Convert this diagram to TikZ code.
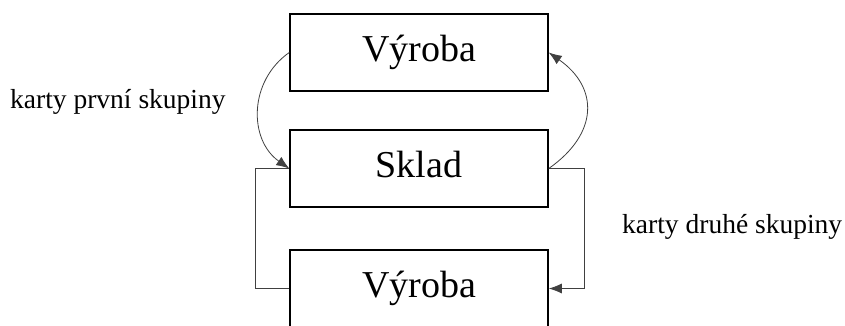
\documentclass[tikz,border=0pt]{standalone}
\usepackage{fontspec}
\setmainfont{Liberation Serif}
\usetikzlibrary{arrows.meta}
\newcommand{\boxWidth}{258pt}
\newcommand{\boxHeight}{77pt}
\newcommand{\boxFont}{\fontsize{38}{40}\selectfont}
\newcommand{\labelFont}{\fontsize{27.5}{30}\selectfont}

\begin{document}
\begin{tikzpicture}[x=1pt, y=1pt,
  stage/.style={draw, line width=1.5pt, minimum width=\boxWidth, minimum height=\boxHeight, inner sep=0pt, font=\boxFont, text height=26pt, text depth=8.5pt},
  cards/.style={anchor=base west, inner sep=0pt, font=\labelFont},
  flow/.style={draw=black!75, line width=0.8pt},
  tip/.style={-{Latex[length=13pt,width=10pt]}}]
\useasboundingbox (0,0) rectangle (845,-325);
\clip (0,0) rectangle (845,-325);

\node[stage] (vyrobaA) at (419,-52.5) {Výroba};
\node[stage] (sklad) at (419,-168.5) {Sklad};
\node[stage] (vyrobaB) at (419,-288.5) {Výroba};

\node[cards] (firstCards) at (10,-108) {karty první skupiny};
\node[cards] (secondCards) at (622,-233) {karty druhé skupiny};

\draw[flow, tip] (vyrobaA.west) to[out=215, in=145, looseness=1.1] (sklad.west);
\draw[flow, tip] (sklad.east) to[out=35, in=-35, looseness=1.35] (vyrobaA.east);

\draw[flow] (vyrobaB.west) -- ++(-34,0) |- (sklad.west);
\draw[flow, tip] (sklad.east) -- ++(36,0) |- (vyrobaB.east);
\end{tikzpicture}
\end{document}
